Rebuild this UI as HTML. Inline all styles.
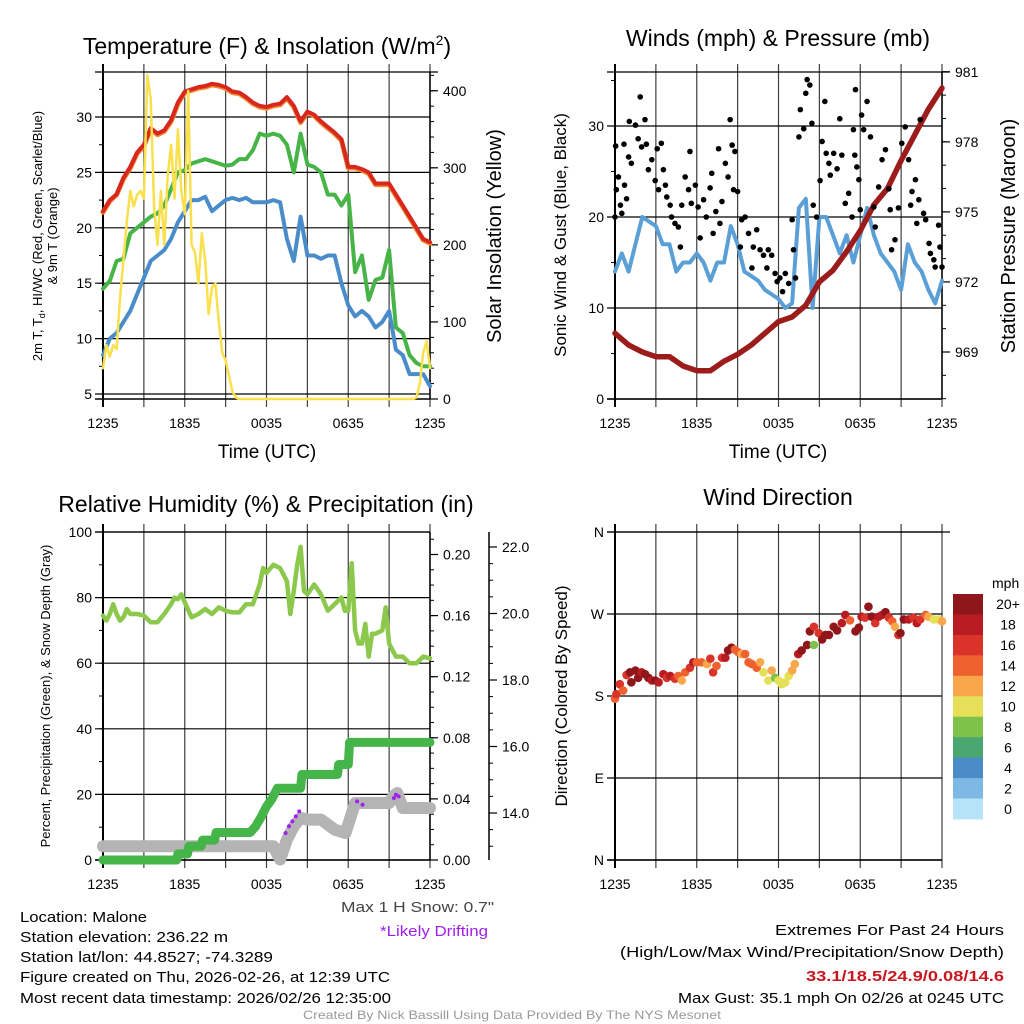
<!DOCTYPE html>
<html><head><meta charset="utf-8"><style>
html,body{margin:0;padding:0;background:#fff;}
svg{display:block;font-family:"Liberation Sans",sans-serif;}
</style></head><body>
<svg id="fig" width="1024" height="1024" viewBox="0 0 1024 1024">
<rect x="0" y="0" width="1024" height="1024" fill="#fff"/>
<text x="267" y="54" font-size="23" text-anchor="middle">Temperature (F) &amp; Insolation (W/m<tspan font-size="14" dy="-9">2</tspan><tspan dy="9">)</tspan></text>
<text x="778" y="46" font-size="23" text-anchor="middle">Winds (mph) &amp; Pressure (mb)</text>
<text x="266" y="512" font-size="23" text-anchor="middle">Relative Humidity (%) &amp; Precipitation (in)</text>
<text x="778" y="505" font-size="23" text-anchor="middle">Wind Direction</text>
<text transform="translate(42,236) rotate(-90)" font-size="13" text-anchor="middle">2m T, T<tspan font-size="9" dy="3">d</tspan><tspan dy="-3">, HI/WC (Red, Green, Scarlet/Blue)</tspan></text>
<text transform="translate(57,236) rotate(-90)" font-size="13" text-anchor="middle">&amp; 9m T (Orange)</text>
<text transform="translate(501,236) rotate(-90)" font-size="20" text-anchor="middle">Solar Insolation (Yellow)</text>
<text transform="translate(566,235) rotate(-90)" font-size="17" text-anchor="middle">Sonic Wind &amp; Gust (Blue, Black)</text>
<text transform="translate(1015,236) rotate(-90)" font-size="20" text-anchor="middle">Station Pressure (Maroon)</text>
<text transform="translate(50,696) rotate(-90)" font-size="13" text-anchor="middle">Percent, Precipitation (Green), &amp; Snow Depth (Gray)</text>
<text transform="translate(567,696) rotate(-90)" font-size="17" text-anchor="middle">Direction (Colored By Speed)</text>
<text x="267" y="458" font-size="19" text-anchor="middle">Time (UTC)</text>
<text x="778" y="458" font-size="19" text-anchor="middle">Time (UTC)</text>
<g font-size="15">
<text x="20" y="922" textLength="127" lengthAdjust="spacingAndGlyphs">Location: Malone</text>
<text x="20" y="942" textLength="208" lengthAdjust="spacingAndGlyphs">Station elevation: 236.22 m</text>
<text x="20" y="962" textLength="253" lengthAdjust="spacingAndGlyphs">Station lat/lon: 44.8527; -74.3289</text>
<text x="20" y="982" textLength="370" lengthAdjust="spacingAndGlyphs">Figure created on Thu, 2026-02-26, at 12:39 UTC</text>
<text x="20" y="1003" textLength="371" lengthAdjust="spacingAndGlyphs">Most recent data timestamp: 2026/02/26 12:35:00</text>
</g>
<text x="341" y="912" font-size="15" fill="#444" textLength="153" lengthAdjust="spacingAndGlyphs">Max 1 H Snow: 0.7"</text>
<text x="380" y="936" font-size="15" fill="#a020f0" textLength="108" lengthAdjust="spacingAndGlyphs">*Likely Drifting</text>
<g font-size="15">
<text x="775" y="935" textLength="229" lengthAdjust="spacingAndGlyphs">Extremes For Past 24 Hours</text>
<text x="620" y="957" textLength="384" lengthAdjust="spacingAndGlyphs">(High/Low/Max Wind/Precipitation/Snow Depth)</text>
<text x="806" y="981" fill="#c8171e" font-weight="bold" textLength="198" lengthAdjust="spacingAndGlyphs">33.1/18.5/24.9/0.08/14.6</text>
<text x="678" y="1003" textLength="326" lengthAdjust="spacingAndGlyphs">Max Gust: 35.1 mph On 02/26 at 0245 UTC</text>
</g>
<text x="303" y="1019" font-size="12" fill="#999" textLength="418" lengthAdjust="spacingAndGlyphs">Created By Nick Bassill Using Data Provided By The NYS Mesonet</text>
</svg>
<script>
// ---------- DATA ----------
const timeLabels = ["1235","1835","0035","0635","1235"];
const tempTicks = [5,10,15,20,25,30];
const solarTicks = [0,100,200,300,400];
const windTicks = [0,10,20,30];
const pressTicks = [969,972,975,978,981];
const rhTicks = [0,20,40,60,80,100];
const precipTicks = [0.00,0.04,0.08,0.12,0.16,0.20];
const snowTicks = [14.0,16.0,18.0,20.0,22.0];
const dirTicks = [0,90,180,270,360];
const dirLabels = ["N","E","S","W","N"];
// temperatures every 30 min (hours 0..24)
const tempRed = [21.5,22.5,23,24.5,25.5,26.8,27.5,29,28.5,28.8,29.7,31.3,32.3,32.5,32.7,32.8,33,32.9,32.7,32.3,32.2,31.8,31.3,31,30.9,31.1,31.2,31.8,31,29.6,30.5,30.2,29.6,29.1,28.6,28,25.5,25.5,25.3,25,24,24,24,23,22,21,20,19,18.7];
const tempOrange = [21.4,22.4,23,24.4,25.4,26.7,27.4,28.9,28.4,28.7,29.6,31.2,32.2,32.4,32.6,32.7,32.9,32.8,32.6,32.2,32.1,31.7,31.2,30.9,30.8,31,31.1,31.7,30.9,29.5,30.4,30.1,29.5,29,28.5,27.9,25.4,25.4,25.2,24.9,23.9,23.9,23.9,22.9,21.9,20.9,19.9,18.9,18.6];
const tempGreen = [14.5,15.2,17,17.2,19.5,20,20.5,21,21.3,22,23.5,25,25.2,25.8,26,26.2,26,25.8,25.6,25.7,26.2,26.2,27,28.5,28.3,28.5,28.3,27.5,25,28.5,25.7,25.5,25,23,23,22,23,16,17.5,13.5,15.3,15.5,18,11,10.5,8.5,7.8,7.5,7.5];
const tempBlue = [8.5,10,10.5,11.5,12.5,14,15.5,17,17.5,18,19,20.5,21.5,22.5,22.5,22.8,21.5,22,22.5,22.7,22.5,22.7,22.3,22.3,22.3,22.5,22.3,19,17,21,17.5,17.5,17.2,17.5,17.5,15,13,12,12.5,12,11,11.5,12.5,9,8.5,6.8,6.8,6.8,5.7];
// solar every 15 min
const solar = [40,70,55,70,65,130,180,230,270,250,265,270,260,420,390,250,200,270,200,290,330,260,350,270,240,400,200,190,150,215,180,110,145,150,100,60,50,30,10,2,0,
0,0,0,0,0,0,0,0,0,0,0,0,0,0,0,0,0,0,0,0,0,0,0,0,0,0,0,0,0,0,0,0,0,0,0,0,0,0,0,0,0,0,0,0,0,0,0,0,0,0,0,
2,20,60,75,40];
// wind every 30 min
const windSpeed = [14,16,14,17,20,19.5,19,17,17,14,15,15,16,15,13,15,15,19,17,14,13.5,13,12,11.5,11,10,10.5,21,22,10,20,20,18,16,18,15,18,21,18,16,15,14,12,17,15,14,12,10.5,13];
// pressure hourly
const pressure = [969.8,969.3,969.0,968.8,968.8,968.4,968.2,968.2,968.6,968.9,969.3,969.8,970.3,970.5,971.0,972.0,972.5,973.3,974.2,975.3,976.0,977.2,978.3,979.4,980.3];
// gusts (hour, mph)
const gustHours = [0,0.05,0.1,0.25,0.4,0.5,0.66,0.7,0.85,1,1.05,1.2,1.5,1.7,1.85,1.95,2.2,2.3,2.45,2.7,2.95,3.1,3.2,3.4,3.55,3.7,3.8,4.05,4.15,4.4,4.65,4.8,4.9,5.15,5.4,5.5,5.6,5.9,6.1,6.25,6.5,6.7,6.98,7.1,7.2,7.4,7.6,7.7,7.85,8.1,8.3,8.45,8.6,8.7,8.8,9,9.2,9.3,9.55,9.8,10.05,10.15,10.4,10.65,10.9,11.15,11.25,11.5,11.75,11.9,12.1,12.3,12.5,12.75,13,13.1,13.25,13.5,13.6,13.85,14,14.1,14.3,14.45,14.55,14.8,15.05,15.2,15.4,15.5,15.7,15.8,16.05,16.3,16.5,16.65,16.9,17.15,17.4,17.5,17.6,17.65,17.75,17.9,18,18.1,18.25,18.5,18.75,19,19.1,19.35,19.6,19.85,20.1,20.2,20.3,20.55,20.8,21.05,21.3,21.55,21.7,21.8,22.05,22.15,22.3,22.4,22.65,22.8,23.05,23.15,23.4,23.5,23.75,23.85,24];
const gustValues = [20,27.8,23,24.4,21.3,20.4,28,23.5,22,26.6,30.5,25.9,30.1,28.6,33.2,27.7,30.7,28,25.2,26.3,24,27.5,23,28.1,25.2,23.5,22.2,21.3,20,19.3,18.9,16.7,21.3,24.4,23,27.2,21.5,23.5,21.1,17.7,21.9,20,23.2,24.8,18.2,20.6,27.5,19.3,21.7,25.9,24.4,30.7,27.9,23,27.2,22.8,16.7,19.7,20,18.2,14.4,16.7,18.6,16.4,15.8,14.4,16.4,15.8,13.8,12.9,13.3,11.8,13.8,12.7,19.7,16.4,13.3,28.8,31.8,29.7,33.6,35.1,34.5,30.3,21.3,20,24,28.3,32.7,27,25.9,24.6,27,25.3,30.8,26.8,21.5,22.6,20,29.6,26.8,34,25.5,24.1,20.8,31.2,29.6,32.7,28.8,21.1,18.9,23.3,26.3,27.4,23.1,20.8,16.4,17.5,21,28.1,29.9,26.3,21.3,22.8,24.1,19.3,21.9,30.7,20.4,19.7,17.1,16,15.3,14.5,19.1,16.7,14.5];
// relative humidity (hour, %)
const rhHours = [0,0.25,0.5,0.75,1,1.25,1.5,1.75,2,2.5,3,3.5,4,4.5,5,5.25,5.5,5.75,6,6.5,7,7.5,8,8.5,9,9.5,10,10.5,11,11.5,11.75,12,12.5,13,13.5,13.75,14,14.25,14.5,14.75,15,15.5,16,16.5,17,17.5,17.75,18,18.25,18.5,18.75,19,19.25,19.5,19.75,20,20.5,20.75,21,21.5,22,22.5,23,23.5,24];
const rhValues = [74.5,73,75,78,75,73,74,76.5,75,75,74.5,72.5,72.5,75,78,80,79.5,81,78.5,74,75,76.5,75,77,76,75.5,75.5,78,78,84,89,87.5,90,89,85,75,82,90,95.5,82,81,84,81,76,78,80,76,76,90.5,70,66,66,72,62,69,69,70,77,66,62,62,60,60,62,61.5];
// precipitation accumulation steps (hour, in)
const precipHours = [0,5.4,5.5,6.2,6.3,7.2,7.3,8.2,8.3,10.8,11.2,11.6,12,12.4,12.8,13.2,14.5,14.6,17.2,17.3,18,18.1,24];
const precipValues = [0,0,0.004,0.004,0.009,0.009,0.013,0.013,0.018,0.018,0.022,0.028,0.035,0.040,0.047,0.047,0.047,0.056,0.056,0.0625,0.0625,0.077,0.077];
// snow depth (hour, in)
const snowHours = [0,12.5,13,13.5,14,14.5,15,16,17,17.8,18.5,21,21.3,21.6,22,24];
const snowValues = [13.0,13.0,12.6,13.2,13.6,13.85,13.8,13.8,13.5,13.4,14.3,14.3,14.5,14.6,14.15,14.15];
const driftHours = [13.4,13.65,13.9,14.15,14.4,18.65,19.05,21.35,21.5,21.7];
const driftValues = [13.4,13.6,13.75,13.9,14.05,14.35,14.25,14.45,14.55,14.5];
// wind direction (hour, degrees, mph)
const dirHours = [0,0.1,0.35,0.6,0.85,1.1,1.2,1.5,1.7,1.95,2.2,2.45,2.7,2.95,3.2,3.55,3.8,4.05,4.4,4.65,4.9,5.15,5.5,5.75,6,6.35,6.75,7,7.2,7.45,7.85,8.1,8.3,8.55,8.8,9.05,9.3,9.55,9.8,10.05,10.4,10.65,10.9,11.25,11.5,11.75,12,12.25,12.5,12.75,13,13.2,13.45,13.7,14.1,14.3,14.6,14.6,14.95,15.2,15.45,15.7,16.05,16.3,16.65,16.9,17.25,17.65,17.9,18.1,18.35,18.6,18.85,19.1,19.35,19.6,19.85,20.1,20.35,20.55,20.8,20.95,21.2,21.55,21.9,22.15,22.4,22.8,23,23.4,23.75,24];
const dirValues = [177,182,193,186,203,206,195,208,200,206,204,200,197,197,195,204,200,202,199,202,197,206,211,217,217,217,215,221,206,213,222,222,230,233,231,228,226,226,217,215,211,217,206,197,208,200,197,193,195,202,208,215,226,230,236,251,236,256,249,242,247,247,256,252,260,269,263,251,255,267,266,278,267,260,267,269,272,266,262,256,247,249,264,264,266,260,264,269,267,264,264,262];
const dirSpeeds = [14,16,16,14,16,20,20,20,20,18,20,20,18,20,18,18,16,18,16,14,12,14,16,18,14,14,12,16,16,14,16,18,20,20,14,14,12,14,14,14,14,12,10,10,12,8,10,10,10,10,12,12,18,20,20,20,8,16,16,20,20,20,20,20,18,18,14,20,20,18,16,20,20,16,18,18,20,16,14,12,16,20,20,18,16,18,16,14,12,10,10,12];
const speedBins = ["0","2","4","6","8","10","12","14","16","18","20+"];
const speedColors = ["#b8e4f9","#7db9e4","#4a8dc6","#4aa76f","#7dc24b","#e6e058","#f8a84a","#ef622f","#da342a","#b81c22","#8f161a"];

// ---------- HELPERS ----------
const NS = "http://www.w3.org/2000/svg";
const svg = document.getElementById("fig");
function mk(tag, attrs, parent) {
  const el = document.createElementNS(NS, tag);
  for (const k in attrs) el.setAttribute(k, attrs[k]);
  (parent || svg).appendChild(el);
  return el;
}
function txt(str, attrs, parent) { const t = mk("text", attrs, parent); t.textContent = str; return t; }

function xAxisFor(left){ return h => left + h*(327/24); }
const xL = xAxisFor(103), xR = xAxisFor(615);
const yTemp = v => 394 - (v-5)*11.08;
const ySolar = w => 399 - w*0.7706;
const yWind = v => 399 - v*9.1;
const yPress = p => 352 - (p-969)*23.35;
const yRH = v => 860 - v*3.28;
const yPrecip = p => 860 - p*1527.5;
const ySnow = s => 813 - (s-14)*33.25;
const yDir = d => 860 - d*328/360;

function frame(left, y0, y1, name) {
  const g = mk("g", {});
  
  
  const x = xAxisFor(left);
  for (let i=0;i<=8;i++){
    const xx = x(i*3);
    const l = mk("line",{x1:xx,x2:xx,y1:y0-8,y2:y1+8,stroke:"#000","stroke-width":(i===0?2:1.2),"stroke-opacity":(i===0?1:0.75)},g);
    
    
  }
  for (let i=0;i<timeLabels.length;i++){
    const t = txt(timeLabels[i],{x:x(i*6),y:y1+29,"font-size":14,"text-anchor":"middle"},g);
    
    
  }
  const b = mk("line",{x1:left-8,x2:left+327,y1:y1,y2:y1,stroke:"#000","stroke-width":1.5},g);
  
  
  return g;
}
function leftAxis(left, ticks, labels, yf, minorStep, lo, hi, name, y0){
  const g = mk("g", {});
  
  
  ticks.forEach((v,i)=>{
    const y = yf(v);
    const l = mk("line",{x1:left-8,x2:left+327,y1:y,y2:y,stroke:"#000","stroke-width":1.2},g);
    
    
    const t = txt(labels[i],{x:left-11,y:y+5,"font-size":14,"text-anchor":"end"},g);
    
    
  });
  if (minorStep){
    for (let v=lo; v<=hi+1e-9; v+=minorStep){
      const y=yf(v); if (y<y0-1) continue;
      const m = mk("line",{x1:left-4,x2:left,y1:y,y2:y,stroke:"#000","stroke-width":1},g);
      
      
    }
  }
}
function rightAxis(xa, ticks, labels, yf, minorStep, lo, hi, name, y0, y1, drawLine){
  const g = mk("g", {});
  
  
  if (drawLine){
    const al = mk("line",{x1:xa,x2:xa,y1:y0,y2:y1,stroke:"#000","stroke-width":1.5},g);
    
    
  }
  ticks.forEach((v,i)=>{
    const y = yf(v);
    const l = mk("line",{x1:xa,x2:xa+8,y1:y,y2:y,stroke:"#000","stroke-width":1.2},g);
    
    
    const t = txt(labels[i],{x:xa+13,y:y+5,"font-size":14},g);
    
    
  });
  for (let v=lo; v<=hi+1e-9; v+=minorStep){
    const y=yf(v); if (y<y0-1||y>y1+1) continue;
    const m = mk("line",{x1:xa,x2:xa+4,y1:y,y2:y,stroke:"#000","stroke-width":1},g);
    
    
  }
}
function line(xs, ys, color, w, name){
  const pts = xs.map((x,i)=>x.toFixed(1)+","+ys[i].toFixed(1)).join(" ");
  const pl = mk("polyline",{points:pts,fill:"none",stroke:color,"stroke-width":w,"stroke-linejoin":"round","stroke-linecap":"round"});
  
  
  return pl;
}
const halfHours = tempRed.map((_,i)=>i*0.5);

// ---------- PANEL 1: temperature ----------
frame(103, 72, 399, "temperature");
leftAxis(103, tempTicks, tempTicks.map(String), yTemp, 2.5, 5, 32.5, "temperature-y-axis", 72);
rightAxis(430, solarTicks, solarTicks.map(String), ySolar, 20, 0, 420, "solar-y-axis", 72, 399, true);
{ const t = mk("line",{x1:95,x2:438,y1:72,y2:72,stroke:"#000","stroke-width":1.2});
  
   }
line(halfHours.map(xL), tempOrange.map(yTemp), "#f08a30", 5, "temp-9m-orange-line");
line(halfHours.map(xL), tempRed.map(yTemp), "#d8271f", 4, "temp-2m-red-line");
line(halfHours.map(xL), tempGreen.map(yTemp), "#47b447", 4, "dewpoint-green-line");
line(halfHours.map(xL), tempBlue.map(yTemp), "#4a8cc9", 4, "windchill-blue-line");
line(solar.map((_,i)=>xL(i*0.25)), solar.map(ySolar), "#f9e04c", 2.5, "solar-yellow-line");

// ---------- PANEL 2: winds ----------
frame(615, 72, 399, "winds");
leftAxis(615, windTicks, windTicks.map(String), yWind, 5, 0, 35, "wind-y-axis", 72);
rightAxis(942, pressTicks, pressTicks.map(String), yPress, 1, 967, 981, "pressure-y-axis", 72, 399, true);
{ const t = mk("line",{x1:607,x2:950,y1:72,y2:72,stroke:"#000","stroke-width":1.2});
  
   }
line(halfHours.map(xR), windSpeed.map(yWind), "#5b9fd7", 4, "wind-speed-blue-line");
line(pressure.map((_,i)=>xR(i)), pressure.map(yPress), "#9c1c1c", 5.5, "pressure-maroon-line");
gustHours.forEach((h,i)=>{
  const c = mk("circle",{cx:xR(h),cy:yWind(gustValues[i]),r:2.8,fill:"#000"});
  
  
});

// ---------- PANEL 3: humidity ----------
frame(103, 532, 860, "humidity");
leftAxis(103, rhTicks, rhTicks.map(String), yRH, 10, 0, 100, "humidity-y-axis", 532);
rightAxis(430, precipTicks, precipTicks.map(v=>v.toFixed(2)), yPrecip, 0.01, 0, 0.21, "precip-y-axis", 532, 860, true);
rightAxis(489, snowTicks, snowTicks.map(v=>v.toFixed(1)), ySnow, 0.5, 12.5, 22.5, "snow-y-axis", 532, 860, true);
{ const t = mk("line",{x1:95,x2:430,y1:532,y2:532,stroke:"#000","stroke-width":1.2});
  
   }
line(rhHours.map(xL), rhValues.map(yRH), "#8cc84c", 4.5, "relative-humidity-line");
line(snowHours.map(xL), snowValues.map(ySnow), "#b4b4b4", 12, "snow-depth-gray-line");
line(precipHours.map(xL), precipValues.map(yPrecip), "#45b54a", 9, "precipitation-green-line");
driftHours.forEach((h,i)=>{
  const c = mk("circle",{cx:xL(h),cy:ySnow(driftValues[i]),r:2,fill:"#a020f0"});
  
  
});

// ---------- PANEL 4: wind direction ----------
frame(615, 532, 860, "direction");
leftAxis(615, dirTicks, dirLabels, yDir, 0, 0, 0, "direction-y-axis", 532);
{ const t = mk("line",{x1:607,x2:950,y1:532,y2:532,stroke:"#000","stroke-width":1.2});
  
   }
function speedColor(s){ let idx = Math.min(10, Math.max(0, Math.floor(s/2))); return speedColors[idx]; }
dirHours.forEach((h,i)=>{
  const c = mk("circle",{cx:xR(h),cy:yDir(dirValues[i]),r:4.3,fill:speedColor(dirSpeeds[i])});
  
  
});
// colorbar
{
  const g = mk("g",{});
  
  
  const cbTop = 594, cbH = 225/11;
  const lab = txt("mph",{x:992,y:588,"font-size":14},g);
  
  
  for (let i=0;i<speedBins.length;i++){
    const k = speedBins.length-1-i;
    const r = mk("rect",{x:953,y:cbTop+i*cbH,width:30,height:cbH+0.5,fill:speedColors[k]},g);
    
    
    const t = txt(speedBins[k],{x:1008,y:cbTop+i*cbH+cbH/2+5,"font-size":14,"text-anchor":"middle"},g);
    
    
  }
}
</script>
</body></html>
